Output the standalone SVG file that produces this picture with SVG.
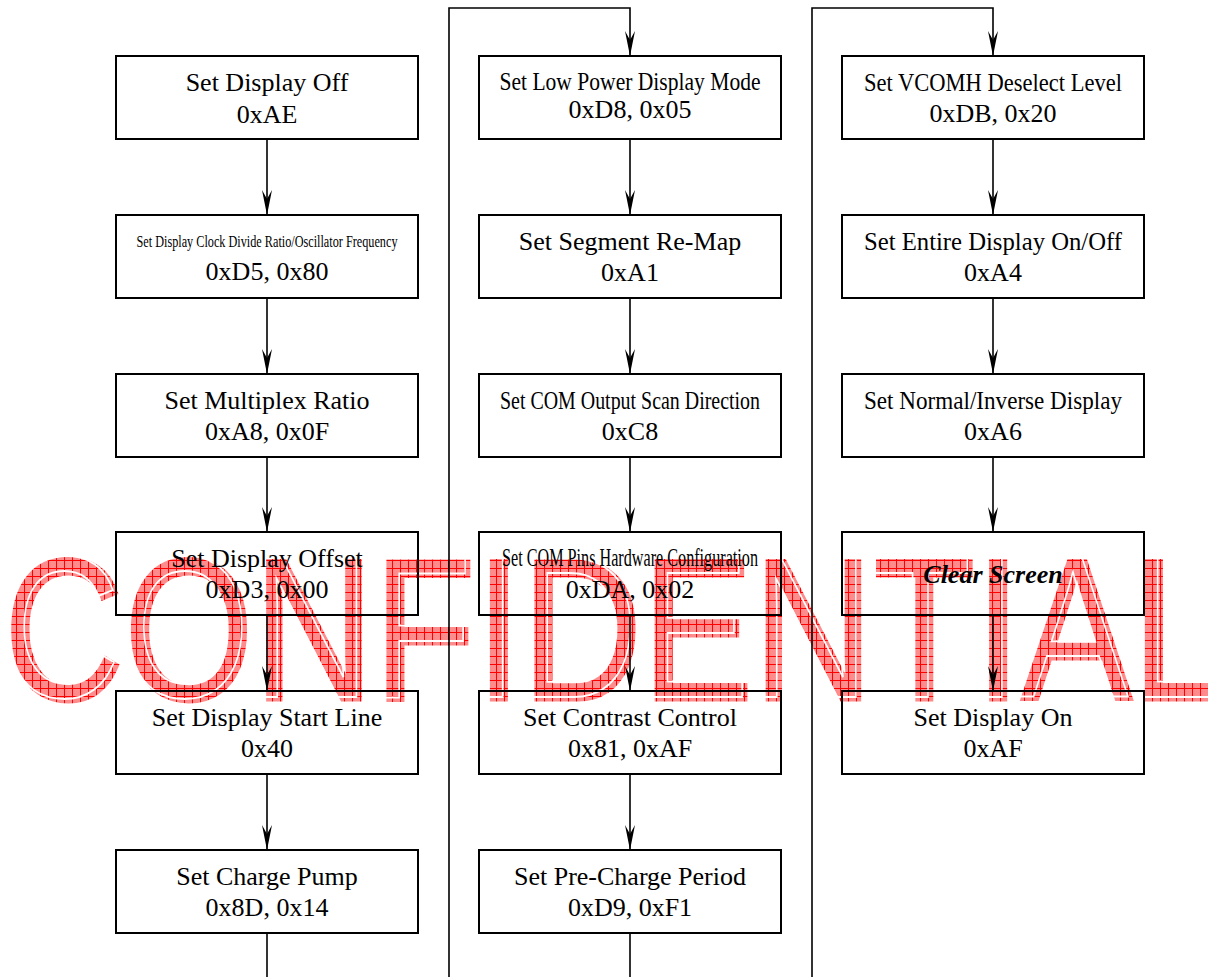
<svg xmlns="http://www.w3.org/2000/svg" width="1208" height="977" viewBox="0 0 1208 977">
<style>
.box{fill:none;stroke:#000;stroke-width:2}
.t{font-family:"Liberation Serif","Times New Roman",serif;font-size:26px;fill:#000;text-anchor:middle}
.bi{font-weight:bold;font-style:italic}
.c{fill:none;stroke:#000;stroke-width:1.6}
.wm{font-family:"Liberation Sans",Arial,sans-serif;font-size:203px}
</style>
<defs>
<marker id="arr" markerUnits="userSpaceOnUse" viewBox="0 0 25 10" refX="25" refY="5" markerWidth="25" markerHeight="10" orient="auto">
<path d="M0,0 L25,5 L0,10 L9,5 Z" fill="#000"/>
</marker>
<pattern id="hatch" patternUnits="userSpaceOnUse" width="8" height="8">
<rect width="8" height="8" fill="#ff8c8c"/>
<path d="M0,0.5 H8 M0.5,0 V8" stroke="#ff0000" stroke-width="1"/>
</pattern>
<mask id="wmgap" maskUnits="userSpaceOnUse" x="0" y="0" width="1208" height="977">
<rect width="1208" height="977" fill="#fff"/>
<text class="wm" x="4" y="700" textLength="1221" lengthAdjust="spacingAndGlyphs" transform="translate(-4,-3)" fill="none" stroke="#000" stroke-width="2">CONFIDENTIAL</text>
</mask>
</defs>
<rect width="1208" height="977" fill="#fff"/>

<g id="watermark" mask="url(#wmgap)">
<text class="wm" x="4" y="700" textLength="1221" lengthAdjust="spacingAndGlyphs" fill="url(#hatch)" stroke="url(#hatch)" stroke-width="3">CONFIDENTIAL</text>
</g>

<g id="connectors">
<path class="c" d="M267,139 V215" marker-end="url(#arr)"/>
<path class="c" d="M267,298 V374" marker-end="url(#arr)"/>
<path class="c" d="M267,457 V532" marker-end="url(#arr)"/>
<path class="c" d="M267,615 V691" marker-end="url(#arr)"/>
<path class="c" d="M267,774 V850" marker-end="url(#arr)"/>
<path class="c" d="M267,933 V977"/>
<path class="c" d="M449,977 V8 H630 V56" marker-end="url(#arr)"/>
<path class="c" d="M630,139 V215" marker-end="url(#arr)"/>
<path class="c" d="M630,298 V374" marker-end="url(#arr)"/>
<path class="c" d="M630,457 V532" marker-end="url(#arr)"/>
<path class="c" d="M630,615 V691" marker-end="url(#arr)"/>
<path class="c" d="M630,774 V850" marker-end="url(#arr)"/>
<path class="c" d="M630,933 V977"/>
<path class="c" d="M812,977 V8 H993 V56" marker-end="url(#arr)"/>
<path class="c" d="M993,139 V215" marker-end="url(#arr)"/>
<path class="c" d="M993,298 V374" marker-end="url(#arr)"/>
<path class="c" d="M993,457 V532" marker-end="url(#arr)"/>
<path class="c" d="M993,615 V691" marker-end="url(#arr)"/>
</g>

<g id="n1"><rect class="box" x="116" y="56" width="302" height="83"/><text class="t" x="267" y="91">Set Display Off</text><text class="t" x="267" y="123">0xAE</text></g>
<g id="n2"><rect class="box" x="116" y="215" width="302" height="83"/><text class="t" x="267" y="247" style="font-size:17px" textLength="261" lengthAdjust="spacingAndGlyphs">Set Display Clock Divide Ratio/Oscillator Frequency</text><text class="t" x="267" y="280">0xD5, 0x80</text></g>
<g id="n3"><rect class="box" x="116" y="374" width="302" height="83"/><text class="t" x="267" y="409">Set Multiplex Ratio</text><text class="t" x="267" y="440">0xA8, 0x0F</text></g>
<g id="n4"><rect class="box" x="116" y="532" width="302" height="83"/><text class="t" x="267" y="567">Set Display Offset</text><text class="t" x="267" y="598">0xD3, 0x00</text></g>
<g id="n5"><rect class="box" x="116" y="691" width="302" height="83"/><text class="t" x="267" y="726">Set Display Start Line</text><text class="t" x="267" y="757">0x40</text></g>
<g id="n6"><rect class="box" x="116" y="850" width="302" height="83"/><text class="t" x="267" y="885">Set Charge Pump</text><text class="t" x="267" y="916">0x8D, 0x14</text></g>

<g id="n7"><rect class="box" x="479" y="56" width="302" height="83"/><text class="t" x="630" y="90" textLength="261" lengthAdjust="spacingAndGlyphs">Set Low Power Display Mode</text><text class="t" x="630" y="118">0xD8, 0x05</text></g>
<g id="n8"><rect class="box" x="479" y="215" width="302" height="83"/><text class="t" x="630" y="250">Set Segment Re-Map</text><text class="t" x="630" y="281">0xA1</text></g>
<g id="n9"><rect class="box" x="479" y="374" width="302" height="83"/><text class="t" x="630" y="409" textLength="260" lengthAdjust="spacingAndGlyphs">Set COM Output Scan Direction</text><text class="t" x="630" y="440">0xC8</text></g>
<g id="n10"><rect class="box" x="479" y="532" width="302" height="83"/><text class="t" x="630" y="566" textLength="256" lengthAdjust="spacingAndGlyphs">Set COM Pins Hardware Configuration</text><text class="t" x="630" y="598">0xDA, 0x02</text></g>
<g id="n11"><rect class="box" x="479" y="691" width="302" height="83"/><text class="t" x="630" y="726">Set Contrast Control</text><text class="t" x="630" y="757">0x81, 0xAF</text></g>
<g id="n12"><rect class="box" x="479" y="850" width="302" height="83"/><text class="t" x="630" y="885">Set Pre-Charge Period</text><text class="t" x="630" y="916">0xD9, 0xF1</text></g>

<g id="n13"><rect class="box" x="842" y="56" width="302" height="83"/><text class="t" x="993" y="91" textLength="258" lengthAdjust="spacingAndGlyphs">Set VCOMH Deselect Level</text><text class="t" x="993" y="122">0xDB, 0x20</text></g>
<g id="n14"><rect class="box" x="842" y="215" width="302" height="83"/><text class="t" x="993" y="250" textLength="258" lengthAdjust="spacingAndGlyphs">Set Entire Display On/Off</text><text class="t" x="993" y="281">0xA4</text></g>
<g id="n15"><rect class="box" x="842" y="374" width="302" height="83"/><text class="t" x="993" y="409" textLength="258" lengthAdjust="spacingAndGlyphs">Set Normal/Inverse Display</text><text class="t" x="993" y="440">0xA6</text></g>
<g id="n16"><rect class="box" x="842" y="532" width="302" height="83"/><text class="t bi" x="993" y="583">Clear Screen</text></g>
<g id="n17"><rect class="box" x="842" y="691" width="302" height="83"/><text class="t" x="993" y="726">Set Display On</text><text class="t" x="993" y="757">0xAF</text></g>
</svg>
